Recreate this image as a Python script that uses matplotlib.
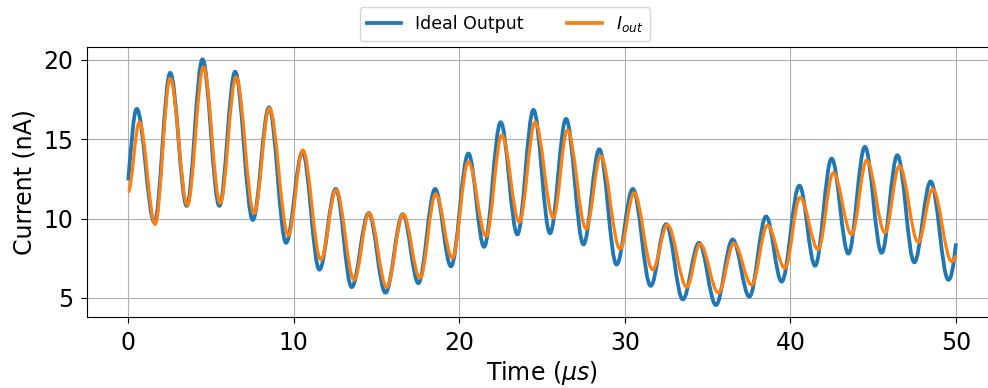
# Ideal output vs I_out current over time

import numpy as np
import matplotlib.pyplot as plt
from matplotlib.path import Path
from matplotlib.patches import PathPatch
from matplotlib.lines import Line2D

# turning points (time in us, current in nA)
t_ideal = [0, 0.52, 1.59, 2.54, 3.54, 4.49, 5.51, 6.46, 7.53, 8.51, 9.54,
           10.53, 11.55, 12.54, 13.5, 14.53, 15.54, 16.59, 17.53, 18.54, 19.5,
           20.55, 21.5, 22.5, 23.51, 24.48, 25.48, 26.45, 27.5, 28.46, 29.5,
           30.48, 31.56, 32.49, 33.5, 34.48, 35.5, 36.51, 37.52, 38.53, 39.47,
           40.54, 41.49, 42.49, 43.5, 44.5, 45.51, 46.46, 47.48, 48.47, 49.54, 50]
i_ideal = [12.4, 16.9, 9.75, 19.17, 10.8, 20.02, 10.8, 19.24, 9.91, 17.0, 8.47,
           14.2, 6.78, 11.86, 5.68, 10.34, 5.33, 10.27, 5.93, 11.86, 6.99,
           14.09, 8.22, 16.06, 9.0, 16.84, 9.07, 16.27, 8.37, 14.36, 7.1,
           11.86, 5.76, 9.64, 4.91, 8.47, 4.55, 8.68, 5.08, 10.13, 6.03,
           12.07, 7.03, 13.77, 7.79, 14.51, 7.84, 13.98, 7.24, 12.33, 6.14, 8.43]

t_out = [0, 0.68, 1.63, 2.54, 3.58, 4.55, 5.56, 6.52, 7.61, 8.53, 9.68,
         10.55, 11.64, 12.56, 13.65, 14.55, 15.62, 16.61, 17.63, 18.58, 19.58,
         20.55, 21.62, 22.57, 23.63, 24.58, 25.68, 26.53, 27.66, 28.54, 29.71,
         30.56, 31.68, 32.57, 33.74, 34.54, 35.65, 36.59, 37.66, 38.61, 39.67,
         40.58, 41.68, 42.59, 43.7, 44.61, 45.71, 46.58, 47.72, 48.59, 49.74, 50]
i_out = [11.69, 16.06, 9.64, 18.81, 10.85, 19.53, 10.97, 18.9, 10.34, 16.95, 8.94,
         14.3, 7.41, 11.8, 6.14, 10.34, 5.68, 10.27, 6.25, 11.54, 7.52,
         13.56, 8.89, 15.25, 9.78, 16.06, 10.06, 15.57, 9.36, 13.94, 8.09,
         11.61, 6.78, 9.6, 5.68, 8.4, 5.33, 8.43, 5.82, 9.57, 6.88,
         11.33, 8.05, 12.88, 9.0, 13.66, 9.11, 13.31, 8.51, 11.86, 7.3, 7.67]

# slope (nA/us) at the first and last point, zero at turning points
slope_ideal = (11.0, 9.4)
slope_out = (0.0, 2.5)


def smooth_path(t, y, ends, k=0.363):
    # cubic bezier through the turning points, flat tangents at the extrema
    n = len(t)
    s = np.zeros(n)
    s[0], s[-1] = ends
    verts = [(t[0], y[0])]
    codes = [Path.MOVETO]
    for j in range(n - 1):
        dt = t[j + 1] - t[j]
        verts += [(t[j] + k * dt, y[j] + s[j] * k * dt),
                  (t[j + 1] - k * dt, y[j + 1] - s[j + 1] * k * dt),
                  (t[j + 1], y[j + 1])]
        codes += [Path.CURVE4] * 3
    return Path(verts, codes)


fig = plt.figure(figsize=(9.88, 3.88), dpi=100)
ax = fig.add_axes([0.0878, 0.1822, 0.9217, 0.6967])

blue = '#1f77b4'
orange = '#ff7f0e'
ax.add_patch(PathPatch(smooth_path(t_ideal, i_ideal, slope_ideal),
                       fill=False, edgecolor=blue, linewidth=2.7, zorder=2))
ax.add_patch(PathPatch(smooth_path(t_out, i_out, slope_out),
                       fill=False, edgecolor=orange, linewidth=2.3, zorder=3))

ax.set_xlim(-2.5, 52.5)
ax.set_ylim(3.78, 20.8)
ax.set_xticks([0, 10, 20, 30, 40, 50])
ax.set_yticks([5, 10, 15, 20])
ax.tick_params(labelsize=17, length=4.5, pad=5)
ax.spines['right'].set_visible(False)
ax.grid(True)
ax.set_axisbelow(True)
ax.set_xlabel(r'Time ($\mu s$)', fontsize=17, labelpad=3)
ax.set_ylabel('Current (nA)', fontsize=17, labelpad=5)

handles = [Line2D([], [], color=blue, linewidth=2.7),
           Line2D([], [], color=orange, linewidth=2.7)]
fig.legend(handles, ['Ideal Output', '$I_{out}$'], loc='upper center',
           bbox_to_anchor=(505 / 988, 1.004), ncol=2, fontsize=12.5,
           columnspacing=2.5)

fig.savefig('out.png', dpi=100)
